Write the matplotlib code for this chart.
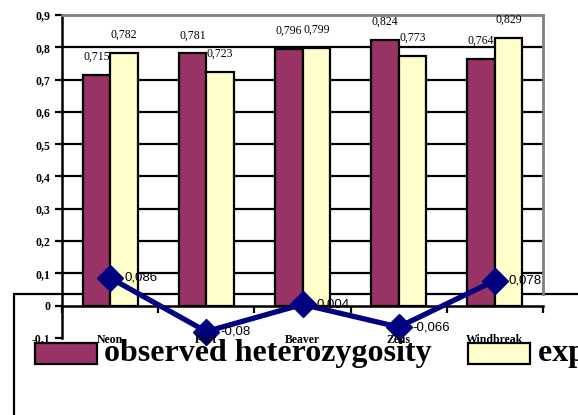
import matplotlib.pyplot as plt
from matplotlib.patches import Rectangle
import numpy as np

sites = ["Neon", "Fort", "Beaver", "Zeus", "Windbreak"]
observed = [0.715, 0.781, 0.796, 0.824, 0.764]
expected = [0.782, 0.723, 0.799, 0.773, 0.829]
difference = [0.086, -0.08, 0.004, -0.066, 0.078]

W, H = 578, 415
fig = plt.figure(figsize=(W / 100, H / 100), dpi=100)
ax = fig.add_axes([62 / W, (H - 338) / H, (543 - 62) / W, (338 - 15) / H])
ax.set_facecolor("none")

serif = "Liberation Serif"
sans = "Liberation Sans"
purple = "#993366"
yellow = "#FFFFCC"
navy = "#000080"

# legend box sits behind the plot
fig.add_artist(Rectangle((14 / W, -0.1), 1.0, (H - 294) / H + 0.1, transform=fig.transFigure,
                         facecolor="white", edgecolor="black", lw=1.6, zorder=-1))

x = np.arange(len(sites))
bw = 0.286
ax.bar(x - bw / 2, observed, bw, color=purple, edgecolor="black", lw=1.6, zorder=2)
ax.bar(x + bw / 2, expected, bw, color=yellow, edgecolor="black", lw=1.6, zorder=2)

for i in range(len(sites)):
    ax.annotate(f"{observed[i]:.3f}".replace(".", ","), (x[i] - bw / 2, observed[i]),
                xytext=(0, 18), textcoords="offset pixels", ha="center", va="center",
                fontsize=8.5, family=serif, zorder=5)
    ax.annotate(f"{expected[i]:.3f}".replace(".", ","), (x[i] + bw / 2, expected[i]),
                xytext=(0, 18), textcoords="offset pixels", ha="center", va="center",
                fontsize=8.5, family=serif, zorder=5)

ax.plot(x, difference, color=navy, lw=3.8, marker="D", ms=13, zorder=6, clip_on=False)
for i in range(len(sites)):
    lbl = f"{difference[i]:.3f}".rstrip("0").replace(".", ",")
    ax.annotate(lbl, (x[i], difference[i]), xytext=(14, 0), textcoords="offset pixels",
                ha="left", va="center", fontsize=9.5, family=sans, zorder=6)

ax.set_xlim(-0.5, len(sites) - 0.5)
ax.set_ylim(-0.1, 0.9)
ticks = np.arange(-0.1, 0.91, 0.1)
tick_labels = ["-0,1", "0", "0,1", "0,2", "0,3", "0,4", "0,5", "0,6", "0,7", "0,8", "0,9"]
ax.set_yticks(ticks)
ax.set_yticklabels(tick_labels, fontsize=8.5, family=serif, fontweight="bold")
ax.tick_params(axis="y", direction="out", length=5, width=1.6)
for v in np.arange(0.1, 0.85, 0.1):
    ax.axhline(v, color="black", lw=1.6, zorder=1)

ax.spines["bottom"].set_position(("data", 0))
ax.spines["bottom"].set_linewidth(1.8)
ax.spines["left"].set_linewidth(1.8)
ax.spines["top"].set_color("#808080")
ax.spines["top"].set_linewidth(2)
ax.spines["right"].set_color("#808080")
ax.spines["right"].set_linewidth(2)
ax.spines["right"].set_bounds(0.037, 0.9)
ax.set_xticks(np.arange(-0.5, len(sites), 1.0))
ax.set_xticklabels([])
ax.tick_params(axis="x", direction="out", length=5, width=1.6)

for i, s in enumerate(sites):
    ax.text(x[i], -0.106, s, ha="center", va="center", fontsize=8.5, family=serif,
            fontweight="bold", zorder=7)

# legend entries
fig.add_artist(Rectangle((35 / W, (H - 364) / H), 62 / W, 21 / H, transform=fig.transFigure,
                         facecolor=purple, edgecolor="black", lw=1.6, zorder=3))
fig.text(104 / W, (H - 353) / H, "observed heterozygosity", ha="left", va="center",
         fontsize=23, family=serif, fontweight="bold")
fig.add_artist(Rectangle((468 / W, (H - 364) / H), 62 / W, 21 / H, transform=fig.transFigure,
                         facecolor=yellow, edgecolor="black", lw=1.6, zorder=3))
fig.text(538 / W, (H - 353) / H, "expected heterozygosity", ha="left", va="center",
         fontsize=23, family=serif, fontweight="bold")

fig.savefig("out.png", dpi=100)
